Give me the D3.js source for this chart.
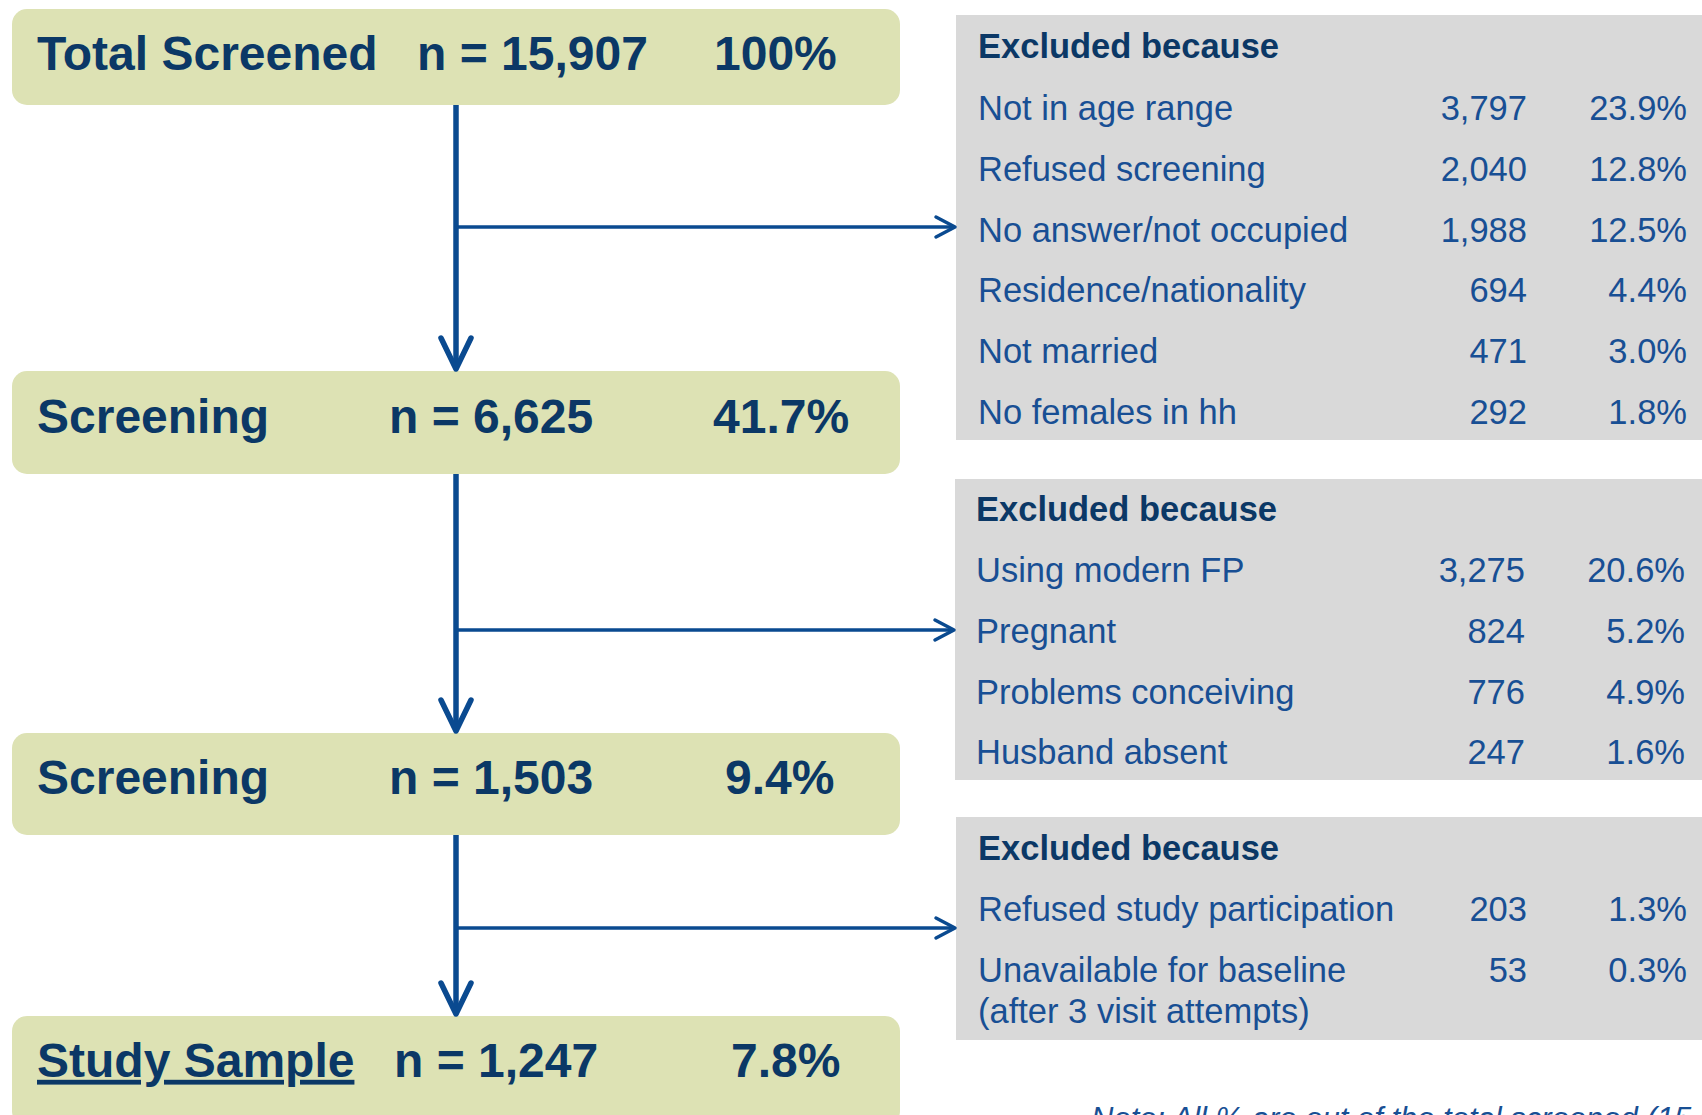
<!DOCTYPE html>
<html>
<head>
<meta charset="utf-8">
<script src="https://cdn.jsdelivr.net/npm/d3@7"></script>
<style>
  html, body { margin: 0; padding: 0; background: #ffffff; }
  svg { display: block; }
</style>
</head>
<body>
<svg id="chart" width="1702" height="1115"></svg>
<script>
// ---------- DATA ----------
const stageLabels = ["Total Screened", "Screening", "Screening", "Study Sample"];
const stageN      = ["n = 15,907", "n = 6,625", "n = 1,503", "n = 1,247"];
const stagePct    = ["100%", "41.7%", "9.4%", "7.8%"];

const exclHeader = "Excluded because";

const excl1Reasons = ["Not in age range", "Refused screening", "No answer/not occupied",
                      "Residence/nationality", "Not married", "No females in hh"];
const excl1N   = ["3,797", "2,040", "1,988", "694", "471", "292"];
const excl1Pct = ["23.9%", "12.8%", "12.5%", "4.4%", "3.0%", "1.8%"];

const excl2Reasons = ["Using modern FP", "Pregnant", "Problems conceiving", "Husband absent"];
const excl2N   = ["3,275", "824", "776", "247"];
const excl2Pct = ["20.6%", "5.2%", "4.9%", "1.6%"];

const excl3Reasons = ["Refused study participation", "Unavailable for baseline\n(after 3 visit attempts)"];
const excl3N   = ["203", "53"];
const excl3Pct = ["1.3%", "0.3%"];

const noteText = "Note: All % are out of the total screened (15,907)";

// ---------- LAYOUT ----------
const W = 1702, H = 1115;
const svg = d3.select("#chart");
const FONT = "'Liberation Sans', Arial, Helvetica, sans-serif";
const navy = "#0b3866";
const rowBlue = "#184f94";
const arrowBlue = "#0a4a90";
const green = "#dde2b4";
const grey = "#d9d9d9";

// stage boxes: top / bottom / text centre
const boxes = [
  {y0: 9,    y1: 105,  cy: 53},
  {y0: 371,  y1: 474,  cy: 416},
  {y0: 733,  y1: 835,  cy: 777},
  {y0: 1016, y1: 1126, cy: 1060}
];
const boxX0 = 12, boxX1 = 900;
const nX   = [417, 389, 389, 394];
const pctX = [714, 713, 725, 731];
const stageFont = 48;

// exclusion panels
const panels = [
  {y0: 15,  y1: 440,  x0: 956, headY: 46,  rowY0: 108, reasons: excl1Reasons, n: excl1N, pct: excl1Pct, branchY: 227, tx: 978, nR: 1527, pR: 1687},
  {y0: 479, y1: 780,  x0: 955, headY: 509, rowY0: 570, reasons: excl2Reasons, n: excl2N, pct: excl2Pct, branchY: 630, tx: 976, nR: 1525, pR: 1685},
  {y0: 817, y1: 1040, x0: 956, headY: 848, rowY0: 909, reasons: excl3Reasons, n: excl3N, pct: excl3Pct, branchY: 928, tx: 978, nR: 1527, pR: 1687}
];
const rowStep = 60.8;
const rowFont = 34.5;

// ---------- PANELS ----------
panels.forEach(p => {
  svg.append("rect").attr("x", p.x0).attr("y", p.y0)
     .attr("width", W - p.x0 + 10).attr("height", p.y1 - p.y0)
     .attr("fill", grey);

  svg.append("text").attr("x", p.tx).attr("y", p.headY).attr("dy", "0.35em")
     .attr("font-family", FONT).attr("font-size", rowFont).attr("font-weight", "bold")
     .attr("fill", navy).text(exclHeader);

  const yScale = d3.scaleLinear().domain([0, 1]).range([p.rowY0, p.rowY0 + rowStep]);

  p.reasons.forEach((r, i) => {
    const lines = r.split("\n");
    const t = svg.append("text").attr("x", p.tx).attr("y", yScale(i))
       .attr("font-family", FONT).attr("font-size", rowFont).attr("fill", rowBlue);
    lines.forEach((ln, j) => {
      t.append("tspan").attr("x", p.tx).attr("dy", j === 0 ? "0.35em" : "1.19em").text(ln);
    });
    svg.append("text").attr("x", p.nR).attr("y", yScale(i)).attr("dy", "0.35em")
       .attr("text-anchor", "end")
       .attr("font-family", FONT).attr("font-size", rowFont).attr("fill", rowBlue).text(p.n[i]);
    svg.append("text").attr("x", p.pR).attr("y", yScale(i)).attr("dy", "0.35em")
       .attr("text-anchor", "end")
       .attr("font-family", FONT).attr("font-size", rowFont).attr("fill", rowBlue).text(p.pct[i]);
  });
});

// ---------- STAGE BOXES ----------
boxes.forEach((b, i) => {
  svg.append("rect").attr("x", boxX0).attr("y", b.y0)
     .attr("width", boxX1 - boxX0).attr("height", b.y1 - b.y0)
     .attr("rx", 15).attr("ry", 15).attr("fill", green);
  svg.append("text").attr("x", 37).attr("y", b.cy).attr("dy", "0.35em")
     .attr("font-family", FONT).attr("font-size", stageFont).attr("font-weight", "bold")
     .attr("fill", navy)
     .style("text-decoration", i === 3 ? "underline" : "none")
     .text(stageLabels[i]);
  svg.append("text").attr("x", nX[i]).attr("y", b.cy).attr("dy", "0.35em")
     .attr("font-family", FONT).attr("font-size", stageFont).attr("font-weight", "bold")
     .attr("fill", navy).text(stageN[i]);
  svg.append("text").attr("x", pctX[i]).attr("y", b.cy).attr("dy", "0.35em")
     .attr("font-family", FONT).attr("font-size", stageFont).attr("font-weight", "bold")
     .attr("fill", navy).text(stagePct[i]);
});

// ---------- ARROWS ----------
const ax = 456;
const g = svg.append("g").attr("stroke", arrowBlue).attr("fill", "none")
  .attr("stroke-linecap", "round").attr("stroke-linejoin", "round");

for (let i = 0; i < 3; i++) {
  const yTop = boxes[i].y1, yTip = boxes[i + 1].y0;
  g.append("line").attr("x1", ax).attr("x2", ax).attr("y1", yTop).attr("y2", yTip - 3)
   .attr("stroke-width", 5.5).attr("stroke-linecap", "butt");
  g.append("path")
   .attr("d", `M${ax - 15},${yTip - 33} L${ax},${yTip - 2} L${ax + 15},${yTip - 33}`)
   .attr("stroke-width", 5.5);
  // branch
  const p = panels[i];
  g.append("line").attr("x1", ax).attr("x2", p.x0 - 2).attr("y1", p.branchY).attr("y2", p.branchY)
   .attr("stroke-width", 3.5).attr("stroke-linecap", "butt");
  g.append("path")
   .attr("d", `M${p.x0 - 20},${p.branchY - 10} L${p.x0 - 1},${p.branchY} L${p.x0 - 20},${p.branchY + 10}`)
   .attr("stroke-width", 3.5);
}

// ---------- NOTE (cut off at the bottom edge, as in the original) ----------
svg.append("text").attr("x", 1091).attr("y", 1129)
   .attr("font-family", FONT).attr("font-size", 31).attr("font-style", "italic")
   .attr("fill", rowBlue).text(noteText);
</script>
</body>
</html>
